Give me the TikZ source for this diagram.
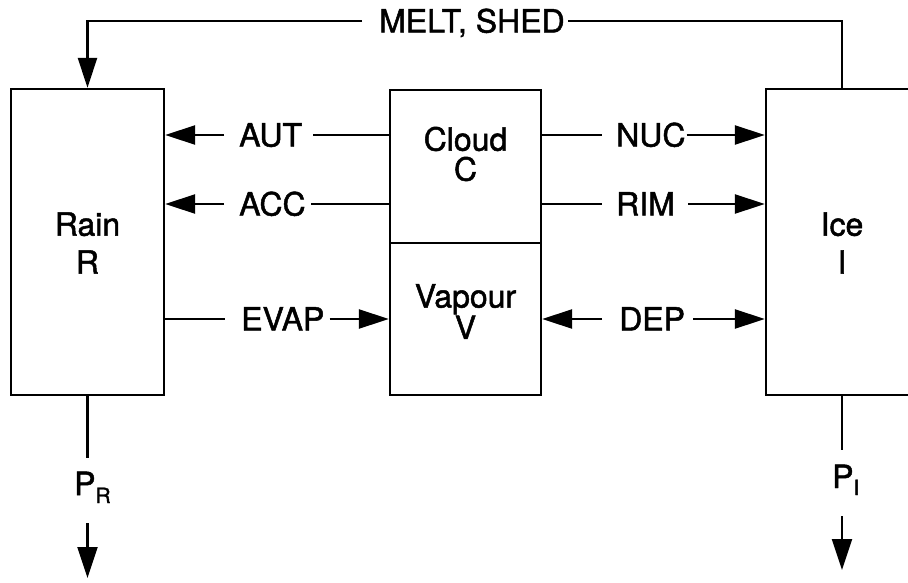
\documentclass[tikz,border=0pt]{standalone}
\usepackage{fontspec}
\setmainfont{TeX Gyre Heros}[FakeBold=1.5]
\usetikzlibrary{arrows.meta}
\tikzset{
 box/.style={draw, line width=2.3pt, inner sep=0pt},
 lbl/.style={inner sep=0pt, text height=23pt, text depth=0pt, font=\fontsize{32}{36}\selectfont},
 boxtxt/.style={align=center, inner sep=0pt, font=\fontsize{32}{38}\selectfont},
 boxtxtb/.style={align=center, inner sep=0pt, font=\fontsize{32}{30}\selectfont},
 ln/.style={line width=2.3pt},
 arr/.style={line width=2.3pt, -{Triangle[length=30pt,width=19pt]}},
 parr/.style={line width=2.3pt, -{Triangle[length=31pt,width=20pt]}},
 plbl/.style={anchor=base west, inner sep=0pt, font=\fontsize{32}{36}\selectfont},
}
\begin{document}
\begin{tikzpicture}[x=1pt,y=-1pt]
\useasboundingbox (0,0) rectangle (908,582);
% boxes
\node[box, minimum width=153pt, minimum height=306pt] (rain) at (87.5,242) {};
\node[boxtxt] (raintxt) at (87.5,243) {Rain\\R};
\node[box, minimum width=151pt, minimum height=153pt] (cloud) at (465.5,166.5) {};
\node[boxtxtb] (cloudtxt) at (465.5,154) {Cloud\\C};
\node[box, minimum width=151pt, minimum height=152pt] (vapour) at (465.5,319) {};
\node[boxtxtb] (vapourtxt) at (465.5,311.5) {Vapour\\V};
\node[box, minimum width=152pt, minimum height=306pt] (ice) at (842,242) {};
\node[boxtxt] (icetxt) at (842,243) {Ice\\I};
% labels
\node[lbl, anchor=west] (melt) at (379,21) {MELT, SHED};
\node[lbl, anchor=west] (aut) at (239,135) {AUT};
\node[lbl, anchor=west] (acc) at (239,204) {ACC};
\node[lbl, anchor=west] (evap) at (241,319) {EVAP};
\node[lbl, anchor=west] (nuc) at (616,135) {NUC};
\node[lbl, anchor=west] (rim) at (616,204) {RIM};
\node[lbl, anchor=west] (dep) at (619,319) {DEP};
\node[plbl] (pr) at (74,495) {P\raisebox{-8pt}{\fontsize{21}{21}\selectfont R}};
\node[plbl] (pi) at (832,488) {P\raisebox{-7pt}{\fontsize{21}{21}\selectfont I}};
% melt, shed
\draw[arr] ([xshift=-17pt]melt.west) -| (rain.north);
\draw[ln] ([xshift=3pt]melt.east) -| (ice.north);
% cloud to rain
\draw[ln] (cloud.west |- aut) -- ([xshift=11pt]aut.east);
\draw[arr] ([xshift=-15pt]aut.west) -- (rain.east |- aut);
\draw[ln] (cloud.west |- acc) -- ([xshift=5pt]acc.east);
\draw[arr] ([xshift=-15pt]acc.west) -- (rain.east |- acc);
% evap
\draw[ln] (rain.east |- evap) -- ([xshift=-16pt]evap.west);
\draw[arr] ([xshift=5pt]evap.east) -- (vapour.west |- evap);
% cloud to ice
\draw[ln] (cloud.east |- nuc) -- ([xshift=-14pt]nuc.west);
\draw[arr] ([xshift=1pt]nuc.east) -- (ice.west |- nuc);
\draw[ln] (cloud.east |- rim) -- ([xshift=-14pt]rim.west);
\draw[arr] ([xshift=13pt]rim.east) -- (ice.west |- rim);
% dep
\draw[arr] ([xshift=-17pt]dep.west) -- (vapour.east |- dep);
\draw[arr] ([xshift=8pt]dep.east) -- (ice.west |- dep);
% precipitation
\coordinate (pra) at (87.5,458);
\coordinate (prb) at (87.5,523);
\coordinate (prc) at (87.5,578);
\draw[ln] (rain.south) -- (pra);
\draw[parr] (prb) -- (prc);
\coordinate (pia) at (842,450);
\coordinate (pib) at (842,516);
\coordinate (pic) at (842,570);
\draw[ln] (ice.south) -- (pia);
\draw[parr] (pib) -- (pic);
\end{tikzpicture}
\end{document}
